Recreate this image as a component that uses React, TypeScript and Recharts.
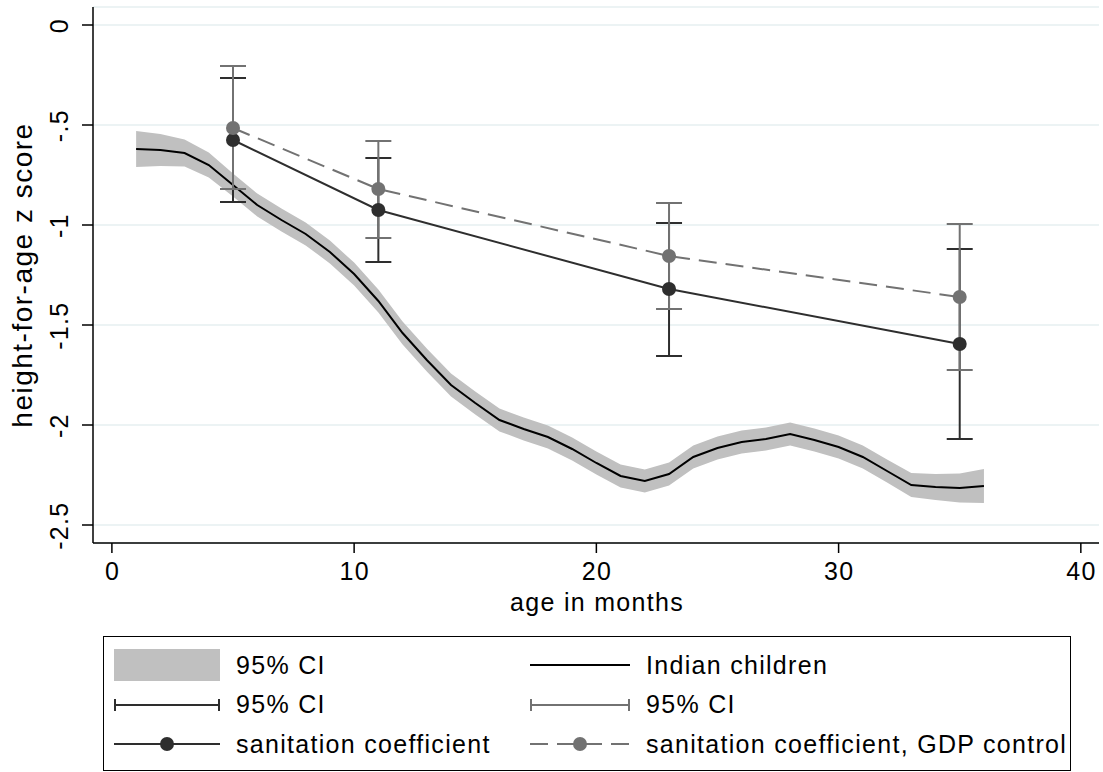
import React from 'react'
import {
  ComposedChart,
  Area,
  Line,
  Scatter,
  ErrorBar,
  XAxis,
  YAxis,
  CartesianGrid,
} from 'recharts'

// smoothed height-for-age curve, Indian children
const ages = [1, 2, 3, 4, 5, 6, 7, 8, 9, 10, 11, 12, 13, 14, 15, 16, 17, 18, 19, 20, 21, 22, 23, 24, 25, 26, 27, 28, 29, 30, 31, 32, 33, 34, 35, 36]
const fit = [-0.62, -0.625, -0.64, -0.7, -0.8, -0.9, -0.975, -1.045, -1.135, -1.245, -1.38, -1.54, -1.675, -1.8, -1.89, -1.975, -2.02, -2.06, -2.12, -2.19, -2.255, -2.28, -2.245, -2.16, -2.115, -2.085, -2.07, -2.045, -2.075, -2.11, -2.16, -2.23, -2.3, -2.31, -2.315, -2.305]
const fitLo = [-0.71, -0.705, -0.708, -0.762, -0.857, -0.957, -1.032, -1.102, -1.192, -1.302, -1.437, -1.597, -1.732, -1.857, -1.947, -2.032, -2.077, -2.117, -2.177, -2.247, -2.312, -2.337, -2.302, -2.217, -2.172, -2.142, -2.127, -2.102, -2.132, -2.167, -2.217, -2.287, -2.36, -2.375, -2.387, -2.39]
const fitHi = [-0.53, -0.545, -0.572, -0.638, -0.743, -0.843, -0.918, -0.988, -1.078, -1.188, -1.323, -1.483, -1.618, -1.743, -1.833, -1.918, -1.963, -2.003, -2.063, -2.133, -2.198, -2.223, -2.188, -2.103, -2.058, -2.028, -2.013, -1.988, -2.018, -2.053, -2.103, -2.173, -2.24, -2.245, -2.243, -2.22]

// sanitation coefficients by age group
const coefAges = [5, 11, 23, 35]
const san = [-0.575, -0.925, -1.32, -1.595]
const sanLo = [-0.885, -1.185, -1.655, -2.07]
const sanHi = [-0.265, -0.665, -0.99, -1.12]
const gdp = [-0.515, -0.82, -1.155, -1.36]
const gdpLo = [-0.82, -1.065, -1.42, -1.725]
const gdpHi = [-0.205, -0.58, -0.89, -0.995]

const xTicks = [0, 10, 20, 30, 40]
const yTicks = [-2.5, -2, -1.5, -1, -0.5, 0]

const FONT = '"Liberation Sans", Arial, Helvetica, sans-serif'
const LS = 1.3
const DARK = '#2e2e2e'
const GRAY = '#727272'
const BAND = '#c0c0c0'

const curveData = ages.map((age, i) => ({ age, fit: fit[i], band: [fitLo[i], fitHi[i]] }))
const sanData = coefAges.map((age, i) => ({ age, y: san[i], err: [san[i] - sanLo[i], sanHi[i] - san[i]] }))
const gdpData = coefAges.map((age, i) => ({ age, y: gdp[i], err: [gdp[i] - gdpLo[i], gdpHi[i] - gdp[i]] }))

const fmtY = (v: number) => {
  if (v === 0) return '0'
  const s = String(v)
  return s.replace('0.', '.')
}

const XTick = (props: any) => {
  const { x, y, payload } = props
  return (
    <text x={x + LS / 2} y={y} dy="0.71em" textAnchor="middle" fontSize={25} fontFamily={FONT} letterSpacing={LS} fill="#000">
      {payload.value}
    </text>
  )
}

const YTick = (props: any) => {
  const { x, y, payload } = props
  return (
    <g transform={`translate(${x - 14},${y + LS / 2}) rotate(-90)`}>
      <text textAnchor="middle" x={0} y={0} fontSize={25} fontFamily={FONT} letterSpacing={LS} fill="#000">
        {fmtY(payload.value)}
      </text>
    </g>
  )
}

const dot = (color: string) => (p: any) => <circle cx={p.cx} cy={p.cy} r={7} fill={color} />
const noDot = () => <g />

function LegendSymbol({ kind, w }: { kind: string; w: number }) {
  if (kind === 'band') return <svg width={w} height={32}><rect x={0} y={0} width={w} height={32} fill={BAND} /></svg>
  if (kind === 'line') return <svg width={w} height={32}><line x1={0} x2={w} y1={16} y2={16} stroke="#000" strokeWidth={2} /></svg>
  if (kind === 'capDark' || kind === 'capGray') {
    const c = kind === 'capDark' ? DARK : GRAY
    return (
      <svg width={w} height={32}>
        <line x1={1} x2={w - 1} y1={16} y2={16} stroke={c} strokeWidth={2} />
        <line x1={1} x2={1} y1={10} y2={22} stroke={c} strokeWidth={2} />
        <line x1={w - 1} x2={w - 1} y1={10} y2={22} stroke={c} strokeWidth={2} />
      </svg>
    )
  }
  const c = kind === 'dotDark' ? DARK : GRAY
  return (
    <svg width={w} height={32}>
      <line x1={0} x2={w} y1={16} y2={16} stroke={c} strokeWidth={2} strokeDasharray={kind === 'dotGray' ? '18 9' : undefined} />
      <circle cx={w / 2} cy={16} r={7} fill={c} />
    </svg>
  )
}

const legendItems = [
  { label: '95% CI', kind: 'band' },
  { label: 'Indian children', kind: 'line' },
  { label: '95% CI', kind: 'capDark' },
  { label: '95% CI', kind: 'capGray' },
  { label: 'sanitation coefficient', kind: 'dotDark' },
  { label: 'sanitation coefficient, GDP control', kind: 'dotGray' },
]

export default function App() {
  return (
    <div style={{ position: 'absolute', left: 0, top: 0, width: 1103, height: 772, background: '#fff', fontFamily: FONT, letterSpacing: LS }}>
      <ComposedChart width={1103} height={772} data={curveData} margin={{ top: 7, right: 4, left: 13, bottom: 199 }}>
        <CartesianGrid vertical={false} stroke="#e6eff1" strokeWidth={1.5} />
        <XAxis
          type="number"
          dataKey="age"
          domain={[-0.78, 40.75]}
          allowDataOverflow
          ticks={xTicks}
          height={30}
          tickSize={10}
          tickMargin={9}
          axisLine={{ stroke: '#000', strokeWidth: 1.5 }}
          tickLine={{ stroke: '#000', strokeWidth: 1.5 }}
          tick={<XTick />}
        />
        <YAxis
          type="number"
          domain={[-2.59, 0.09]}
          allowDataOverflow
          ticks={yTicks}
          width={80}
          tickSize={11}
          tickMargin={0}
          axisLine={{ stroke: '#000', strokeWidth: 1.5 }}
          tickLine={{ stroke: '#000', strokeWidth: 1.5 }}
          tick={<YTick />}
        />
        <Area type="linear" dataKey="band" fill={BAND} fillOpacity={1} stroke="none" isAnimationActive={false} />
        <Line type="linear" dataKey="fit" stroke="#000" strokeWidth={2} dot={false} activeDot={false} isAnimationActive={false} />
        <Scatter data={sanData} dataKey="y" shape={noDot} isAnimationActive={false}>
          <ErrorBar dataKey="err" direction="y" width={13} stroke={DARK} strokeWidth={2} isAnimationActive={false} />
        </Scatter>
        <Scatter data={gdpData} dataKey="y" shape={noDot} isAnimationActive={false}>
          <ErrorBar dataKey="err" direction="y" width={13} stroke={GRAY} strokeWidth={2} isAnimationActive={false} />
        </Scatter>
        <Scatter
          data={sanData}
          dataKey="y"
          shape={dot(DARK)}
          line={{ stroke: DARK, strokeWidth: 2 }}
          lineType="joint"
          isAnimationActive={false}
        />
        <Scatter
          data={gdpData}
          dataKey="y"
          shape={dot(GRAY)}
          line={{ stroke: GRAY, strokeWidth: 2, strokeDasharray: '18 9' }}
          lineType="joint"
          isAnimationActive={false}
        />
      </ComposedChart>

      <div
        style={{
          position: 'absolute', left: 23, top: 275, fontSize: 28, lineHeight: 1, whiteSpace: 'nowrap', letterSpacing: 1.5,
          transform: 'translate(-50%, -50%) rotate(-90deg)',
        }}
      >
        height-for-age z score
      </div>
      <div
        style={{
          position: 'absolute', left: 597, top: 602, fontSize: 25, lineHeight: 1, whiteSpace: 'nowrap',
          transform: 'translate(-50%, -50%)',
        }}
      >
        age in months
      </div>

      <div
        style={{
          position: 'absolute', left: 103, top: 636, width: 968, height: 135, boxSizing: 'border-box',
          border: '1.5px solid #000',
        }}
      >
        {legendItems.map((it, i) => {
          const col = i % 2
          const row = Math.floor(i / 2)
          return (
            <div
              key={i}
              style={{
                position: 'absolute', left: col === 0 ? 10 : 426, top: 12 + row * 39.5, height: 32,
                display: 'flex', alignItems: 'center', whiteSpace: 'nowrap', fontSize: 25,
              }}
            >
              <LegendSymbol kind={it.kind} w={col === 0 ? 106 : 100} />
              <span style={{ marginLeft: 16 }}>{it.label}</span>
            </div>
          )
        })}
      </div>
    </div>
  )
}
